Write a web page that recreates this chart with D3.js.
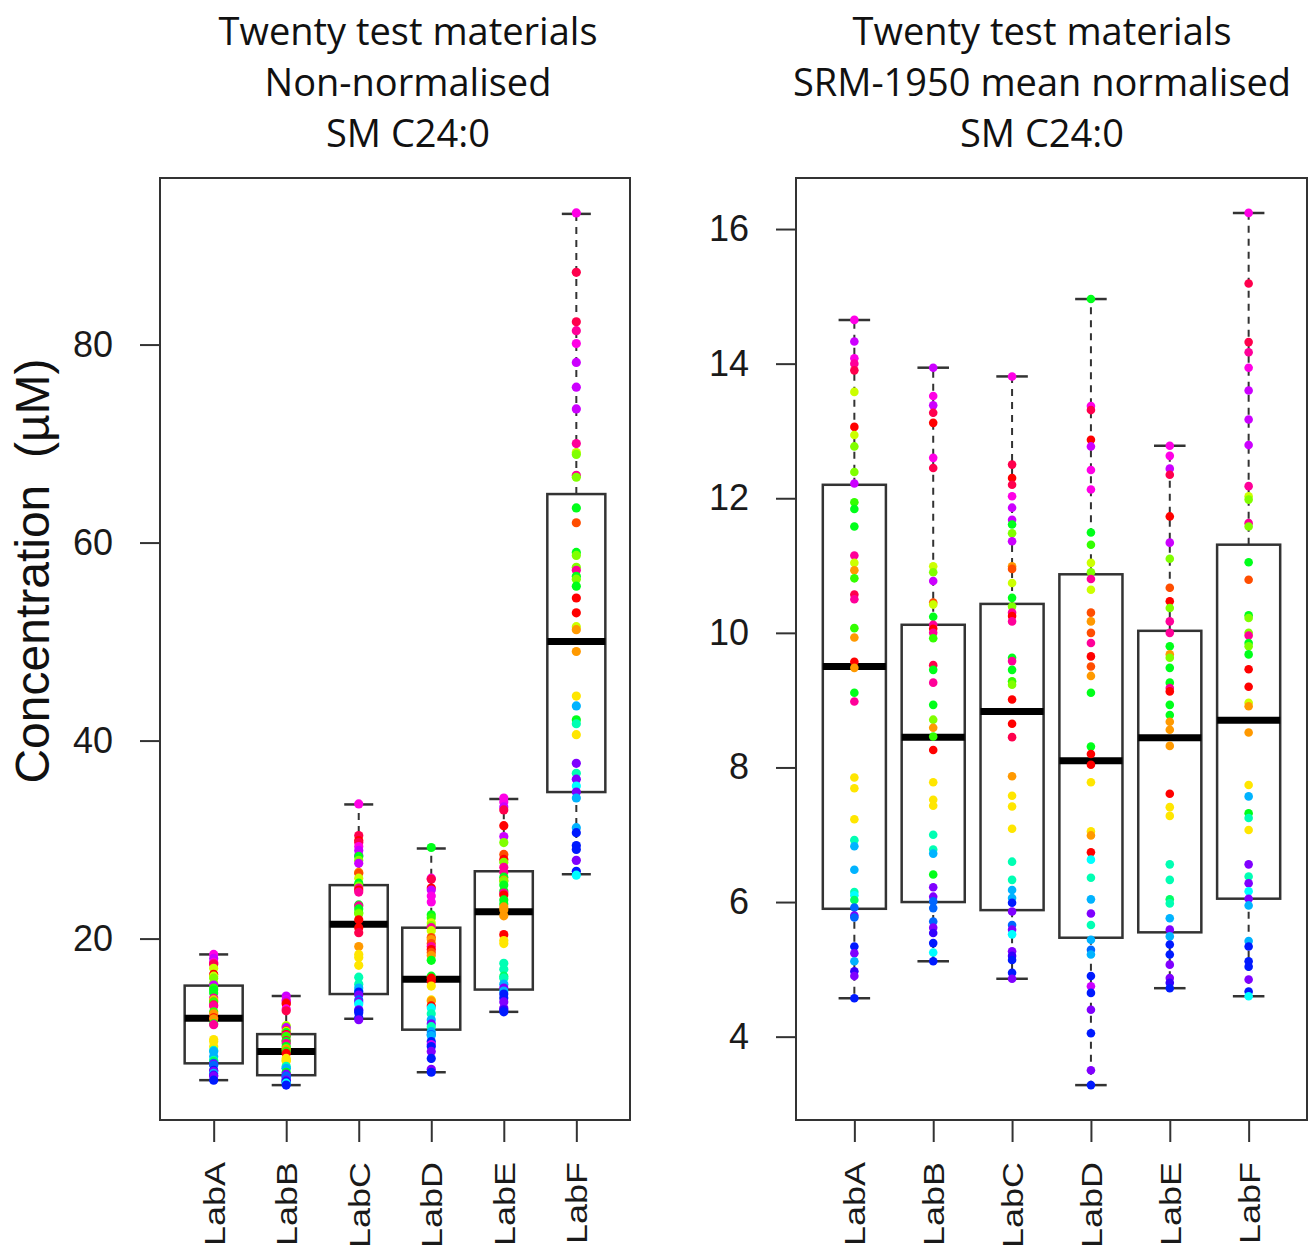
<!DOCTYPE html>
<html>
<head>
<meta charset="utf-8">
<title>SM C24:0 – twenty test materials</title>
<script src="https://cdn.jsdelivr.net/npm/d3@7"></script>
<style>
  body { margin: 0; background: #fff; }
  .title { font-family: "Open Sans", sans-serif; font-size: 38px; fill: #111; }
  .ylab { font-family: "Liberation Sans", Arial, sans-serif; font-size: 48px; fill: #111; white-space: pre; }
  .axis text { font-family: "Liberation Sans", Arial, sans-serif; fill: #1a1a1a; }
  .axis path, .axis line { stroke: #333; stroke-width: 2px; }
</style>
</head>
<body>
<svg id="chart" width="1311" height="1254"></svg>
<script>
const labs = ['LabA', 'LabB', 'LabC', 'LabD', 'LabE', 'LabF'];

const leftTitle = ['Twenty test materials', 'Non-normalised', 'SM C24:0'];
const rightTitle = ['Twenty test materials', 'SRM-1950 mean normalised', 'SM C24:0'];
const yLabel = 'Concentration  (\u00b5M)';

const rawTicks = [20, 40, 60, 80];
const normTicks = [4, 6, 8, 10, 12, 14, 16];

// test material (0-19, rainbow order) of every point, same order in both panels
const matA = [17,16,17,18,19,4,0,4,5,5,16,6,7,7,18,4,2,6,19,18,6,2,0,2,7,18,3,3,3,9,11,11,9,10,8,12,15,12,13,15,11,14,15,13];
const matB = [16,17,16,19,0,17,19,4,5,16,1,4,7,18,0,18,6,19,7,18,7,5,2,6,0,3,3,3,9,9,11,7,15,15,12,12,12,15,14,13,10,13];
const matC = [17,19,0,19,17,16,16,7,5,16,2,1,4,7,5,18,0,18,7,18,7,6,5,0,0,19,2,3,3,3,9,9,11,11,13,15,12,15,10,15,14,13,13,15];
const matD = [7,17,19,0,16,17,17,7,6,4,5,18,4,1,2,1,18,0,1,2,7,7,0,0,3,3,2,0,10,9,11,15,9,11,12,11,13,16,13,15,13,15,13];
const matE = [17,17,16,19,0,16,5,1,0,5,18,18,7,2,5,7,7,18,0,7,7,2,2,2,0,3,3,9,9,8,9,11,15,11,13,13,15,15,14,13];
const matF = [17,19,19,18,17,16,16,16,18,4,5,18,5,7,1,7,5,5,18,7,5,7,0,0,4,2,2,3,11,7,9,3,15,9,15,10,15,11,11,13,13,13,15,13,10];

// non-normalised concentrations (µM)
const rawA = [18.4,18.0,17.6,17.5,17.4,17.0,16.4,16.2,16.0,15.5,15.3,15.0,14.8,14.5,14.0,13.8,13.7,13.6,13.3,13.2,12.6,12.4,12.0,11.9,11.4,11.3,9.8,9.6,9.1,8.7,8.6,8.1,7.7,7.6,7.6,7.4,7.3,7.2,6.7,6.6,6.4,6.2,6.1,5.7];
const rawB = [14.2,13.8,13.7,13.5,13.4,12.9,12.7,11.2,11.1,11.0,10.7,10.6,10.5,10.3,10.3,10.2,10.1,9.7,9.6,9.4,9.1,8.9,8.8,8.6,8.4,7.9,7.7,7.6,7.1,6.9,6.9,6.5,6.3,6.2,6.1,6.0,5.8,5.7,5.6,5.5,5.4,5.2];
const rawC = [33.6,30.4,29.9,29.7,29.3,28.9,28.4,28.3,27.9,27.6,26.7,26.6,26.1,25.6,25.3,25.1,24.9,24.7,23.4,23.3,23.0,22.6,22.5,21.9,21.1,20.6,19.2,18.4,18.1,17.3,16.1,15.4,15.0,14.7,14.6,14.3,13.8,13.6,13.4,12.8,12.7,12.5,12.0,11.8];
const rawD = [29.2,26.1,26.0,25.1,24.9,24.3,23.7,22.4,22.1,21.6,21.3,21.1,20.8,20.1,19.9,19.5,19.2,18.9,18.6,18.3,17.8,16.2,16.0,15.7,15.2,13.8,13.7,13.2,13.0,12.4,11.8,11.4,11.1,10.6,10.3,10.2,9.6,9.3,9.1,8.6,7.9,6.8,6.5];
const rawE = [34.2,33.8,33.3,33.0,31.4,30.3,29.7,28.5,28.0,27.7,27.2,26.7,26.2,25.9,25.8,25.4,24.8,24.6,24.4,23.9,23.5,23.2,22.9,22.3,20.4,19.8,19.5,17.5,16.9,16.2,16.0,15.4,15.0,14.7,14.4,14.0,13.6,13.0,12.8,12.6];
const rawF = [93.3,87.3,82.3,81.4,80.1,78.2,75.7,73.5,70.0,69.1,68.9,66.8,66.6,63.5,62.0,59.0,58.7,57.5,57.2,56.6,56.3,55.6,54.4,52.9,51.5,51.2,49.0,44.5,43.5,42.1,41.7,40.6,37.7,36.7,36.1,35.4,34.8,34.2,31.2,30.7,29.4,29.0,27.9,26.8,26.4];

// SRM-1950 mean normalised concentrations
const normA = [14.65,14.33,14.08,14.0,13.9,13.58,13.06,12.94,12.77,12.39,12.22,11.94,11.84,11.58,11.15,11.04,10.93,10.81,10.57,10.5,10.07,9.93,9.57,9.48,9.11,8.98,7.85,7.69,7.23,6.92,6.83,6.48,6.15,6.1,6.03,5.92,5.8,5.77,5.34,5.24,5.12,4.97,4.9,4.57];
const normB = [13.94,13.52,13.38,13.27,13.12,12.6,12.45,10.99,10.9,10.77,10.45,10.42,10.24,10.12,10.06,10.0,9.92,9.52,9.45,9.26,8.93,8.71,8.59,8.46,8.26,7.78,7.52,7.43,7.0,6.78,6.72,6.41,6.22,6.08,6.01,5.91,5.71,5.62,5.54,5.39,5.25,5.12];
const normC = [13.81,12.5,12.3,12.2,12.03,11.86,11.68,11.61,11.48,11.36,10.99,10.95,10.74,10.52,10.39,10.3,10.25,10.17,9.63,9.58,9.45,9.28,9.23,9.01,8.65,8.45,7.87,7.58,7.42,7.09,6.6,6.33,6.18,6.06,5.99,5.86,5.66,5.59,5.52,5.27,5.2,5.14,4.95,4.86];
const normD = [14.96,13.37,13.31,12.87,12.77,12.42,12.13,11.49,11.31,11.04,10.9,10.8,10.64,10.3,10.17,10.0,9.85,9.65,9.5,9.36,9.11,8.31,8.2,8.04,7.78,7.05,6.99,6.74,6.63,6.36,6.04,5.83,5.66,5.44,5.29,5.22,4.9,4.75,4.65,4.4,4.05,3.5,3.28];
const normE = [12.78,12.63,12.44,12.35,11.73,11.34,11.1,10.67,10.47,10.37,10.17,10.0,9.8,9.68,9.63,9.48,9.26,9.18,9.13,8.93,8.78,8.68,8.56,8.32,7.61,7.41,7.28,6.56,6.33,6.04,5.98,5.76,5.59,5.49,5.37,5.22,5.07,4.87,4.8,4.72];
const normF = [16.24,15.19,14.32,14.17,13.94,13.6,13.17,12.79,12.18,12.03,11.98,11.63,11.58,11.05,10.79,10.26,10.22,10.0,9.96,9.85,9.8,9.68,9.46,9.2,8.96,8.91,8.52,7.74,7.57,7.32,7.25,7.07,6.56,6.38,6.28,6.16,6.05,5.95,5.42,5.34,5.12,5.04,4.85,4.67,4.6];

// box statistics (whisker ends, hinges, median)
const rawLow  = [5.7, 5.2, 11.9, 6.5, 12.6, 26.5];
const rawQ1   = [7.4, 6.2, 14.4, 10.8, 14.85, 34.8];
const rawMed  = [11.95, 8.6, 21.45, 15.9, 22.7, 50.0];
const rawQ3   = [15.25, 10.35, 25.4, 21.1, 26.8, 64.9];
const rawHigh = [18.4, 14.2, 33.55, 29.1, 34.1, 93.2];

const normLow  = [4.57, 5.12, 4.86, 3.28, 4.72, 4.6];
const normQ1   = [5.9, 6.0, 5.88, 5.47, 5.55, 6.05];
const normMed  = [9.5, 8.45, 8.83, 8.1, 8.44, 8.7];
const normQ3   = [12.2, 10.12, 10.43, 10.87, 10.03, 11.31];
const normHigh = [14.65, 13.94, 13.81, 14.96, 12.78, 16.24];

const materialColour = i => d3.hsl(i * 18, 1, 0.5).formatHex();
const mats = [matA, matB, matC, matD, matE, matF];

const svg = d3.select('#chart');

function drawPanel(p) {
  const g = svg.append('g');
  const x = d3.scaleLinear().domain([0.26, 6.74]).range([p.left, p.right]);
  const all = p.values.flat().concat(p.low, p.high);
  const [lo, hi] = d3.extent(all);
  const pad = (hi - lo) * 0.04;
  const y = d3.scaleLinear().domain([lo - pad, hi + pad]).range([p.bottom, p.top]);
  const bw = x(1.4) - x(1);   // half box width
  const sw = x(1.2) - x(1);   // half staple width

  const boxes = labs.map((lab, i) => ({
    i, cx: x(i + 1), low: p.low[i], q1: p.q1[i], med: p.med[i], q3: p.q3[i], high: p.high[i]
  }));

  const bg = g.selectAll('g.box').data(boxes).enter().append('g').attr('class', 'box');
  // whiskers
  bg.append('line')
    .attr('x1', d => d.cx).attr('x2', d => d.cx)
    .attr('y1', d => y(d.q3)).attr('y2', d => y(d.high))
    .attr('stroke', '#333').attr('stroke-width', 2).attr('stroke-dasharray', '7,6');
  bg.append('line')
    .attr('x1', d => d.cx).attr('x2', d => d.cx)
    .attr('y1', d => y(d.q1)).attr('y2', d => y(d.low))
    .attr('stroke', '#333').attr('stroke-width', 2).attr('stroke-dasharray', '7,6');
  // staples
  ['high', 'low'].forEach(k => {
    bg.append('line')
      .attr('x1', d => d.cx - sw).attr('x2', d => d.cx + sw)
      .attr('y1', d => y(d[k])).attr('y2', d => y(d[k]))
      .attr('stroke', '#333').attr('stroke-width', 2.5);
  });
  // box
  bg.append('rect')
    .attr('x', d => d.cx - bw).attr('width', 2 * bw)
    .attr('y', d => y(d.q3)).attr('height', d => y(d.q1) - y(d.q3))
    .attr('fill', 'none').attr('stroke', '#333').attr('stroke-width', 2.5);
  // median
  bg.append('line')
    .attr('x1', d => d.cx - bw).attr('x2', d => d.cx + bw)
    .attr('y1', d => y(d.med)).attr('y2', d => y(d.med))
    .attr('stroke', '#000').attr('stroke-width', 7);

  // frame
  g.append('rect')
    .attr('x', p.left).attr('y', p.top)
    .attr('width', p.right - p.left).attr('height', p.bottom - p.top)
    .attr('fill', 'none').attr('stroke', '#333').attr('stroke-width', 2);

  // y axis
  const ya = g.append('g').attr('class', 'axis')
    .attr('transform', `translate(${p.left},0)`)
    .call(d3.axisLeft(y).tickValues(p.ticks).tickSize(20).tickPadding(27).tickSizeOuter(0));
  ya.select('.domain').remove();
  ya.selectAll('text').style('font-size', '36px');

  // x axis
  const xa = g.append('g').attr('class', 'axis')
    .attr('transform', `translate(0,${p.bottom})`)
    .call(d3.axisBottom(x).tickValues([1, 2, 3, 4, 5, 6]).tickFormat(v => labs[v - 1]).tickSize(22).tickSizeOuter(0));
  xa.select('.domain').remove();
  xa.selectAll('text')
    .style('font-size', '29px')
    .attr('text-anchor', 'end')
    .attr('transform', 'rotate(-90) scale(1.24,1)')
    .attr('x', -42 / 1.24).attr('y', 0).attr('dy', '0.36em');

  // points
  labs.forEach((lab, i) => {
    g.append('g').selectAll('circle')
      .data(p.values[i].map((v, j) => ({ v, m: mats[i][j] })))
      .enter().append('circle')
      .attr('cx', x(i + 1))
      .attr('cy', d => y(d.v))
      .attr('r', p.r)
      .attr('fill', d => materialColour(d.m));
  });

  // title
  g.append('text').attr('class', 'title')
    .attr('text-anchor', 'middle')
    .selectAll('tspan').data(p.title).enter().append('tspan')
    .attr('x', p.titleX).attr('y', (d, k) => 45 + k * 51)
    .text(d => d);
}

drawPanel({
  left: 160, right: 630, top: 178, bottom: 1120, titleX: 408, r: 4.6,
  title: leftTitle, ticks: rawTicks,
  values: [rawA, rawB, rawC, rawD, rawE, rawF],
  low: rawLow, q1: rawQ1, med: rawMed, q3: rawQ3, high: rawHigh
});

drawPanel({
  left: 796, right: 1307, top: 178, bottom: 1120, titleX: 1042, r: 4.3,
  title: rightTitle, ticks: normTicks,
  values: [normA, normB, normC, normD, normE, normF],
  low: normLow, q1: normQ1, med: normMed, q3: normQ3, high: normHigh
});

svg.append('text').attr('class', 'ylab')
  .attr('text-anchor', 'middle')
  .attr('transform', 'translate(49,571) rotate(-90)')
  .text(yLabel);
</script>
</body>
</html>
